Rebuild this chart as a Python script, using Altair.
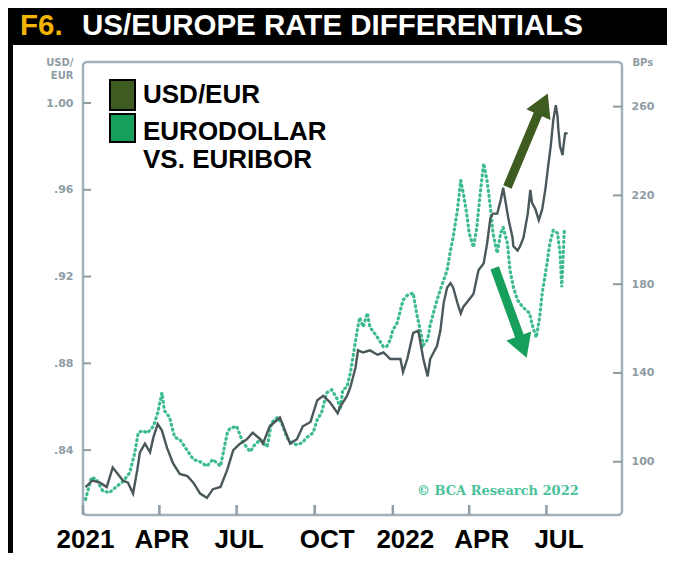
import altair as alt
import pandas as pd

# ---------------- data ----------------
usd_dates = [
    "2021-01-04", "2021-01-12", "2021-01-21", "2021-01-29", "2021-02-05", "2021-02-11",
    "2021-02-17", "2021-02-23", "2021-03-01", "2021-03-06", "2021-03-09", "2021-03-15",
    "2021-03-21", "2021-03-25", "2021-03-30", "2021-04-04", "2021-04-10", "2021-04-17",
    "2021-04-25", "2021-05-04", "2021-05-11", "2021-05-19", "2021-05-27", "2021-06-03",
    "2021-06-12", "2021-06-20", "2021-06-27", "2021-07-05", "2021-07-13", "2021-07-20",
    "2021-07-29", "2021-08-01", "2021-08-09", "2021-08-18", "2021-08-21", "2021-08-25",
    "2021-09-02", "2021-09-10", "2021-09-17", "2021-09-26", "2021-10-04", "2021-10-11",
    "2021-10-19", "2021-10-28", "2021-10-31", "2021-11-08", "2021-11-12", "2021-11-18",
    "2021-11-21", "2021-11-27", "2021-12-05", "2021-12-14", "2021-12-21", "2021-12-29",
    "2022-01-06", "2022-01-10", "2022-01-13", "2022-01-18", "2022-01-25", "2022-01-31",
    "2022-02-06", "2022-02-11", "2022-02-14", "2022-02-22", "2022-02-26", "2022-03-02",
    "2022-03-06", "2022-03-10", "2022-03-13", "2022-03-18", "2022-03-22", "2022-03-25",
    "2022-03-31", "2022-04-06", "2022-04-12", "2022-04-18", "2022-04-22", "2022-04-26",
    "2022-04-29", "2022-05-04", "2022-05-08", "2022-05-11", "2022-05-14", "2022-05-17",
    "2022-05-22", "2022-05-23", "2022-05-28", "2022-05-31", "2022-06-04", "2022-06-09",
    "2022-06-12", "2022-06-14", "2022-06-18", "2022-06-22", "2022-06-26", "2022-06-30",
    "2022-07-03", "2022-07-06", "2022-07-09", "2022-07-12", "2022-07-14", "2022-07-15",
    "2022-07-17", "2022-07-20", "2022-07-21", "2022-07-23", "2022-07-26",
]
usd_vals = [
    0.823, 0.826, 0.825, 0.823, 0.832, 0.829,
    0.826, 0.825, 0.820, 0.831, 0.839, 0.843,
    0.839, 0.846, 0.852, 0.849, 0.841, 0.834,
    0.829, 0.828, 0.825, 0.820, 0.818, 0.822,
    0.823, 0.831, 0.840, 0.843, 0.845, 0.848,
    0.845, 0.843, 0.851, 0.854, 0.855, 0.851,
    0.843, 0.845, 0.851, 0.853, 0.863, 0.865,
    0.862, 0.857, 0.860, 0.865, 0.869, 0.878,
    0.886, 0.885, 0.886, 0.884, 0.885, 0.882,
    0.882, 0.882, 0.876, 0.882, 0.894, 0.895,
    0.882, 0.874, 0.882, 0.888, 0.895, 0.908,
    0.915, 0.917, 0.915, 0.908, 0.903, 0.906,
    0.909, 0.912, 0.923, 0.926, 0.935, 0.947,
    0.949, 0.949, 0.955, 0.961, 0.954, 0.947,
    0.938, 0.934, 0.932, 0.934, 0.938, 0.949,
    0.960, 0.954, 0.951, 0.946, 0.951, 0.961,
    0.971, 0.980, 0.992, 0.999, 0.994, 0.988,
    0.980, 0.976, 0.980, 0.986, 0.986,
]

spread_dates = [
    "2021-01-04", "2021-01-11", "2021-01-17", "2021-01-24", "2021-02-01", "2021-02-10",
    "2021-02-17", "2021-02-25", "2021-03-03", "2021-03-07", "2021-03-12", "2021-03-18",
    "2021-03-25", "2021-03-30", "2021-04-04", "2021-04-07", "2021-04-13", "2021-04-19",
    "2021-04-25", "2021-05-04", "2021-05-11", "2021-05-19", "2021-05-27", "2021-06-03",
    "2021-06-12", "2021-06-20", "2021-06-23", "2021-07-01", "2021-07-08", "2021-07-17",
    "2021-07-22", "2021-07-29", "2021-08-06", "2021-08-11", "2021-08-18", "2021-08-23",
    "2021-08-29", "2021-09-04", "2021-09-10", "2021-09-16", "2021-09-22", "2021-09-29",
    "2021-10-04", "2021-10-09", "2021-10-15", "2021-10-21", "2021-10-28", "2021-10-31",
    "2021-11-03", "2021-11-08", "2021-11-12", "2021-11-15", "2021-11-20", "2021-11-23",
    "2021-11-27", "2021-12-02", "2021-12-05", "2021-12-14", "2021-12-21", "2021-12-25",
    "2021-12-29", "2022-01-01", "2022-01-06", "2022-01-10", "2022-01-13", "2022-01-18",
    "2022-01-25", "2022-01-29", "2022-02-06", "2022-02-11", "2022-02-14", "2022-02-22",
    "2022-02-27", "2022-03-06", "2022-03-10", "2022-03-13", "2022-03-18", "2022-03-22",
    "2022-03-25", "2022-03-29", "2022-04-01", "2022-04-06", "2022-04-10", "2022-04-14",
    "2022-04-18", "2022-04-22", "2022-04-26", "2022-04-29", "2022-05-04", "2022-05-08",
    "2022-05-11", "2022-05-16", "2022-05-19", "2022-05-23", "2022-05-28", "2022-06-03",
    "2022-06-11", "2022-06-15", "2022-06-19", "2022-06-23", "2022-06-26", "2022-07-01",
    "2022-07-05", "2022-07-09", "2022-07-14", "2022-07-17", "2022-07-19", "2022-07-22",
]
spread_vals = [
    83, 93, 92, 87, 86, 89,
    91, 95, 104, 113, 114, 113,
    116, 122, 131, 123, 120, 111,
    110, 105, 101, 100, 98, 101,
    98, 113, 115, 116, 109, 104.5,
    107.5, 110, 106.7, 117.5, 120, 117.5,
    111, 108.5, 107.6, 108.5, 111, 113,
    119, 122, 131, 132.4, 128, 123.4,
    132.4, 133.7, 140, 147, 159, 165,
    160.7, 167, 160.7, 156, 151.7, 152,
    155, 159.3, 162.5, 168.3, 172.8, 175,
    176, 167, 152.6, 155, 161.6, 172.8,
    178.7, 186.3, 195.3, 201, 213, 226.7,
    221, 212, 203, 196.6, 205.6, 221,
    234.4, 226.7, 214.6, 203, 194, 203,
    205.6, 198.4, 186.3, 178.7, 172.8, 169.7,
    167, 160.7, 156, 165, 176, 187.7,
    198.4, 204.3, 203, 194, 178.7, 204,
]

left_ticks = [0.84, 0.88, 0.92, 0.96, 1.00]
right_ticks = [100, 140, 180, 220, 260]
quarter_dates = ["2021-01-01", "2021-04-01", "2021-07-01", "2021-10-01",
                 "2022-01-01", "2022-04-01", "2022-07-01"]

up_arrow_dates = ["2022-05-16", "2022-06-23"]
up_arrow_vals = [0.9613, 0.9968]
up_head = ("2022-06-27", 0.9995)
down_arrow_dates = ["2022-05-01", "2022-05-31"]
down_arrow_vals = [0.924, 0.8917]
down_head = ("2022-06-03", 0.8876)

title_prefix = "F6."
title_main = "US/EUROPE RATE DIFFERENTIALS"
legend_labels = ["USD/EUR", "EURODOLLAR", "VS. EURIBOR"]
credit = "\u00a9 BCA Research 2022"

# ---------------- styling ----------------
W, H = 539, 453
FRAME = "#a2b1b9"
TICKC = "#8e9ca4"
LBL = "#8e9ca4"
SOLID = "#4a585b"
DOTTED = "#3dbb8f"
OLIVE = "#3e5b20"
GREEN = "#17a05b"
SANS = "Liberation Sans, Arial, sans-serif"


def dt(s):
    return alt.DateTime(year=int(s[:4]), month=int(s[5:7]), date=int(s[8:10]), utc=True)


xscale = alt.Scale(type="utc", domain=[dt("2021-01-01"), dt("2022-09-28")])
lscale = alt.Scale(domain=[0.8101, 1.0189], nice=False, zero=False)
rscale = alt.Scale(domain=[76, 280.1], nice=False, zero=False)

xaxis = alt.Axis(
    values=[dt(s) for s in quarter_dates],
    labelExpr="utcFormat(datum.value, '%m') == '01' ? utcFormat(datum.value, '%Y') : upper(utcFormat(datum.value, '%b'))",
    title=None, ticks=False, domain=False, grid=False,
    labelFont=SANS, labelFontSize=26, labelFontWeight="bold", labelColor="black",
    labelBaseline="alphabetic", labelPadding=32, labelFlush=False,
    labelOffset={"condition": {"test": "datum.value > utc(2021, 8, 1)", "value": 12}, "value": 2},
    orient="bottom",
)
laxis = alt.Axis(
    values=left_ticks,
    labelExpr="datum.value >= 0.999 ? '1.00' : replace(format(datum.value, '.2f'), '0.', '.')",
    ticks=False, domain=False, grid=False, orient="left",
    labelFont="DejaVu Sans", labelFontSize=11, labelFontWeight="bold", labelColor=LBL,
    labelPadding=10,
    title=["USD/", "EUR"], titleAngle=0, titleAlign="right", titleBaseline="top",
    titleX=-10, titleY=-5, titleFont="DejaVu Sans", titleFontSize=10,
    titleFontWeight="bold", titleColor=LBL, titleLineHeight=13,
)
raxis = alt.Axis(
    values=right_ticks, format="d",
    ticks=False, domain=False, grid=False, orient="right",
    labelFont="DejaVu Sans", labelFontSize=11, labelFontWeight="bold", labelColor=LBL,
    labelPadding=9,
    title="BPs", titleAngle=0, titleAlign="left", titleBaseline="top",
    titleX=10, titleY=-5, titleFont="DejaVu Sans", titleFontSize=10,
    titleFontWeight="bold", titleColor=LBL,
)

one = pd.DataFrame({"a": [0]})

usd = pd.DataFrame({"date": usd_dates, "v": usd_vals})
spr = pd.DataFrame({"date": spread_dates, "v": spread_vals})

# background decorations
band = alt.Chart(one).mark_rect(color="black").encode(
    x=alt.value(-75), x2=alt.value(W + 60), y=alt.value(-54), y2=alt.value(-17))
strip = alt.Chart(one).mark_rect(color="black").encode(
    x=alt.value(-75), x2=alt.value(-70), y=alt.value(-54), y2=alt.value(H + 60))

# right-scale layer
dotted = alt.Chart(spr).mark_line(
    color=DOTTED, strokeWidth=3.2, strokeDash=[1, 4], strokeCap="round"
).encode(
    x=alt.X("date:T", scale=xscale, axis=xaxis),
    y=alt.Y("v:Q", scale=rscale, axis=raxis),
)
rticks = alt.Chart(pd.DataFrame({"v": right_ticks})).mark_rule(
    color=TICKC, strokeWidth=2).encode(
    y=alt.Y("v:Q", scale=rscale, axis=raxis), x=alt.value(W - 9), x2=alt.value(W))
right_layer = alt.layer(dotted, rticks)

# left-scale layer
solid = alt.Chart(usd).mark_line(color=SOLID, strokeWidth=2.4).encode(
    x=alt.X("date:T", scale=xscale, axis=xaxis),
    y=alt.Y("v:Q", scale=lscale, axis=laxis),
)
lticks = alt.Chart(pd.DataFrame({"v": left_ticks})).mark_rule(
    color=TICKC, strokeWidth=2).encode(
    y=alt.Y("v:Q", scale=lscale, axis=laxis), x=alt.value(0), x2=alt.value(8))
xticks = alt.Chart(pd.DataFrame({"d": quarter_dates})).mark_rule(
    color=TICKC, strokeWidth=2.5).encode(
    x=alt.X("d:T", scale=xscale, axis=xaxis), y=alt.value(H - 10), y2=alt.value(H))

up_shaft = alt.Chart(pd.DataFrame({"d": up_arrow_dates, "v": up_arrow_vals})).mark_line(
    color=OLIVE, strokeWidth=9).encode(
    x=alt.X("d:T", scale=xscale, axis=xaxis), y=alt.Y("v:Q", scale=lscale, axis=laxis))
up_tip = alt.Chart(pd.DataFrame({"d": [up_head[0]], "v": [up_head[1]]})).mark_point(
    shape="triangle-up", filled=True, color=OLIVE, size=700, angle=24, opacity=1).encode(
    x=alt.X("d:T", scale=xscale, axis=xaxis), y=alt.Y("v:Q", scale=lscale, axis=laxis))
down_shaft = alt.Chart(pd.DataFrame({"d": down_arrow_dates, "v": down_arrow_vals})).mark_line(
    color=GREEN, strokeWidth=9).encode(
    x=alt.X("d:T", scale=xscale, axis=xaxis), y=alt.Y("v:Q", scale=lscale, axis=laxis))
down_tip = alt.Chart(pd.DataFrame({"d": [down_head[0]], "v": [down_head[1]]})).mark_point(
    shape="triangle-up", filled=True, color=GREEN, size=700, angle=160, opacity=1).encode(
    x=alt.X("d:T", scale=xscale, axis=xaxis), y=alt.Y("v:Q", scale=lscale, axis=laxis))

left_layer = alt.layer(solid, lticks, xticks, up_shaft, up_tip, down_shaft, down_tip)

# legend
sw1 = alt.Chart(one).mark_rect(color=OLIVE, stroke="black", strokeWidth=2).encode(
    x=alt.value(27), x2=alt.value(52), y=alt.value(18), y2=alt.value(48))
sw2 = alt.Chart(one).mark_rect(color=GREEN, stroke="black", strokeWidth=2).encode(
    x=alt.value(27), x2=alt.value(52), y=alt.value(52), y2=alt.value(80))
legend_texts = []
for lab, yy in zip(legend_labels, [41, 78, 106]):
    legend_texts.append(
        alt.Chart(pd.DataFrame({"t": [lab]})).mark_text(
            align="left", baseline="alphabetic", font=SANS, fontSize=26,
            fontWeight="bold", color="black").encode(
            text="t:N", x=alt.value(60), y=alt.value(yy)))

# title
t1 = alt.Chart(pd.DataFrame({"t": [title_prefix]})).mark_text(
    align="left", baseline="alphabetic", font=SANS, fontSize=29.5, fontWeight="bold",
    color="#f5b400").encode(text="t:N", x=alt.value(-63), y=alt.value(-27))
t2 = alt.Chart(pd.DataFrame({"t": [title_main]})).mark_text(
    align="left", baseline="alphabetic", font=SANS, fontSize=29.5, fontWeight="bold",
    color="white").encode(text="t:N", x=alt.value(-1), y=alt.value(-27))

cr = alt.Chart(pd.DataFrame({"t": [credit]})).mark_text(
    align="left", baseline="alphabetic", font="DejaVu Serif", fontSize=13,
    fontWeight="bold", color="#49c29a").encode(
    text="t:N", x=alt.value(334), y=alt.value(433))

chart = alt.layer(
    band, strip, right_layer, left_layer, sw1, sw2, *legend_texts, t1, t2, cr
).resolve_scale(y="independent").properties(
    width=W, height=H,
    autosize=alt.AutoSizeParams(type="none"),
    padding={"left": 75, "top": 54, "right": 45, "bottom": 38},
    background="white",
).configure_view(stroke=FRAME, strokeWidth=2.5, cornerRadius=4)

chart.save("out.html", embed_options={"renderer": "svg", "actions": False})
